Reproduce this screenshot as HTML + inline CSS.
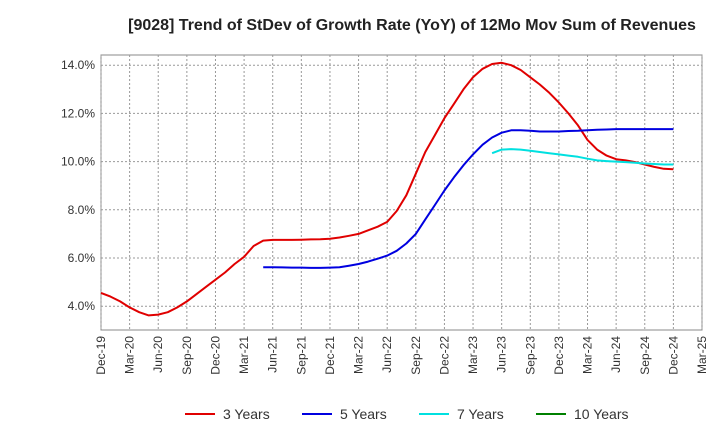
<!DOCTYPE html>
<html><head><meta charset="utf-8"><style>
body{margin:0;background:#fff;font-family:"Liberation Sans",sans-serif}
</style></head><body>
<svg id="chart" width="720" height="440" xmlns="http://www.w3.org/2000/svg">
<rect width="720" height="440" fill="#fff"/>
<text x="412" y="30" text-anchor="middle" font-size="16" font-weight="bold" fill="#222">[9028]  Trend of StDev of Growth Rate (YoY) of 12Mo Mov Sum of Revenues</text>
<g id="grid"></g><g id="axes"></g><g id="series"></g><g id="legend"></g>
</svg>
<script>
const xLabels=["Dec-19","Mar-20","Jun-20","Sep-20","Dec-20","Mar-21","Jun-21","Sep-21","Dec-21","Mar-22","Jun-22","Sep-22","Dec-22","Mar-23","Jun-23","Sep-23","Dec-23","Mar-24","Jun-24","Sep-24","Dec-24","Mar-25"];
const yTicks=[4,6,8,10,12,14];
const s3=[4.55,4.4,4.2,3.95,3.75,3.62,3.65,3.75,3.95,4.2,4.5,4.8,5.1,5.4,5.75,6.05,6.5,6.72,6.75,6.75,6.75,6.76,6.77,6.78,6.8,6.85,6.92,7.0,7.15,7.3,7.5,7.95,8.6,9.5,10.4,11.1,11.8,12.4,13.0,13.5,13.85,14.05,14.1,14.0,13.8,13.5,13.2,12.85,12.45,12.0,11.5,10.9,10.5,10.25,10.1,10.05,9.98,9.88,9.78,9.7,9.68];
const s5Start=17;
const s5=[5.62,5.62,5.61,5.6,5.6,5.59,5.59,5.6,5.62,5.68,5.75,5.85,5.97,6.1,6.3,6.6,7.0,7.6,8.2,8.8,9.35,9.85,10.3,10.7,11.0,11.2,11.3,11.3,11.28,11.25,11.25,11.25,11.27,11.28,11.3,11.32,11.33,11.35,11.35,11.35,11.35,11.35,11.35,11.35];
const s7Start=41;
const s7=[10.35,10.5,10.52,10.5,10.45,10.4,10.35,10.3,10.25,10.2,10.12,10.05,10.02,10.0,9.98,9.95,9.92,9.9,9.88,9.88];
const NS="http://www.w3.org/2000/svg";
const L=101,R=702,T=55,B=330;
const xm=m=>L+(R-L)*m/63;
const yv=v=>402.6-24.1*v;
function mk(t,a,p){const e=document.createElementNS(NS,t);for(const k in a)e.setAttribute(k,a[k]);p.appendChild(e);return e;}
const grid=document.getElementById('grid'),axes=document.getElementById('axes'),ser=document.getElementById('series'),leg=document.getElementById('legend');
mk('rect',{x:L,y:T,width:R-L,height:B-T,fill:'#fff',stroke:'#888'},grid);
yTicks.forEach(v=>{const y=yv(v);
const g=mk('line',{x1:L,x2:R,y1:y,y2:y,stroke:'#999','stroke-dasharray':'2,2'},grid);


const t=mk('text',{x:L-6,y:y+4,'text-anchor':'end','font-size':12,fill:'#333'},axes);t.textContent=v.toFixed(1)+'%';

});
xLabels.forEach((lb,i)=>{const x=xm(i*3);
const g=mk('line',{x1:x,x2:x,y1:T,y2:B,stroke:'#999','stroke-dasharray':'2,2'},grid);


const t=mk('text',{x:x+4,y:B+6,'text-anchor':'end','font-size':12,fill:'#333',transform:`rotate(-90 ${x+4} ${B+6})`},axes);t.textContent=lb;

});
function line(arr,start,color,name){const d=arr.map((v,i)=>(i?'L':'M')+xm(start+i).toFixed(1)+','+yv(v).toFixed(1)).join('');
const p=mk('path',{d,fill:'none',stroke:color,'stroke-width':2,'stroke-linejoin':'round'},ser);

}
line(s3,0,'#e00000','series-3-years');
line(s5,s5Start,'#0000e0','series-5-years');
line(s7,s7Start,'#00e0e0','series-7-years');
const items=[["3 Years","#e00000",185],["5 Years","#0000e0",302],["7 Years","#00e0e0",419],["10 Years","#008000",536]];
items.forEach(([n,c,x])=>{const l=mk('line',{x1:x,x2:x+30,y1:414,y2:414,stroke:c,'stroke-width':2},leg);


const t=mk('text',{x:x+38,y:419,'font-size':14,fill:'#333'},leg);t.textContent=n;

});
</script>
</body></html>
